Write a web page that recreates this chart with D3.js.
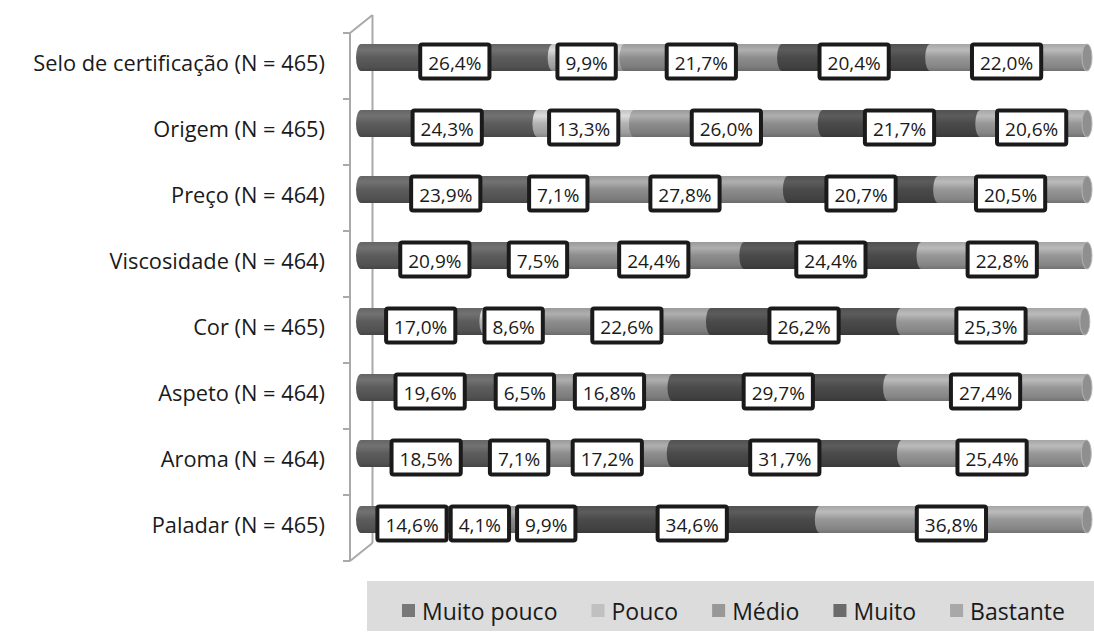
<!DOCTYPE html>
<html>
<head>
<meta charset="utf-8">
<script src="https://cdn.jsdelivr.net/npm/d3@7"></script>
<style>
    body { margin: 0; background: white; }
    text { font-family: "Open Sans", sans-serif; fill: #1a1a1a; }
</style>
</head>
<body>
<div id="chart"></div>
<script>
//DATA
//Categories (top to bottom)
const categories = [
    "Selo de certificação (N = 465)",
    "Origem (N = 465)",
    "Preço (N = 464)",
    "Viscosidade (N = 464)",
    "Cor (N = 465)",
    "Aspeto (N = 464)",
    "Aroma (N = 464)",
    "Paladar (N = 465)"
];

//Series names (stack order)
const seriesNames = ["Muito pouco", "Pouco", "Médio", "Muito", "Bastante"];

//Series values (%)
const muitoPouco = [26.4, 24.3, 23.9, 20.9, 17.0, 19.6, 18.5, 14.6];
const pouco      = [9.9, 13.3, 7.1, 7.5, 8.6, 6.5, 7.1, 4.1];
const medio      = [21.7, 26.0, 27.8, 24.4, 22.6, 16.8, 17.2, 9.9];
const muito      = [20.4, 21.7, 20.7, 24.4, 26.2, 29.7, 31.7, 34.6];
const bastante   = [22.0, 20.6, 20.5, 22.8, 25.3, 27.4, 25.4, 36.8];

//Colours: bars and legend swatches
const barColours    = ["#5c5c5c", "#b2b2b2", "#8d8d8d", "#4a4a4a", "#979797"];
const legendColours = ["#787878", "#c0c0c0", "#989898", "#6b6b6b", "#a8a8a8"];

//SCRIPT PROPERTIES
const w = 1094;
const h = 634;
const barH = 27;
const rx = 5;

//Build table for the stack
const table = categories.map((c, i) => ({
    category: c,
    "Muito pouco": muitoPouco[i],
    "Pouco": pouco[i],
    "Médio": medio[i],
    "Muito": muito[i],
    "Bastante": bastante[i]
}));

//Number format with comma decimal
const ptLocale = d3.formatLocale({decimal: ",", thousands: ".", grouping: [3], currency: ["", "€"]});
const fmt = v => ptLocale.format(".1f")(v) + "%";

const svg = d3.select("#chart")
    .append("svg")
    .attr("width", w)
    .attr("height", h)
    .style("background-color", "white");

//Scales (axis fixed at 100%, longer bars are cut off)
const x = d3.scaleLinear().domain([0, 100]).range([359, 1085]).clamp(true);
const y = d3.scaleBand().domain(categories).range([24.5, 552.5]);

//Cylinder gradients
const defs = svg.append("defs");
barColours.forEach((c, i) => {
    const col = d3.color(c);
    const g = defs.append("linearGradient")
        .attr("id", "grad" + i)
        .attr("x1", 0).attr("y1", 0).attr("x2", 0).attr("y2", 1);
    g.append("stop").attr("offset", "0%").attr("stop-color", col.brighter(0.25));
    g.append("stop").attr("offset", "22%").attr("stop-color", col.brighter(0.6));
    g.append("stop").attr("offset", "50%").attr("stop-color", col);
    g.append("stop").attr("offset", "85%").attr("stop-color", col.darker(0.35));
    g.append("stop").attr("offset", "100%").attr("stop-color", col.darker(0.8));
});

//Walls / axis lines
const wall = svg.append("g").attr("stroke", "#a9a9a9").attr("stroke-width", 2).attr("fill", "none");
const top0 = y.range()[0], bot0 = y.range()[1];
wall.append("line").attr("x1", 372.5).attr("x2", 372.5).attr("y1", top0 - 9.5).attr("y2", bot0 - 9.5);
wall.append("line").attr("x1", 350).attr("x2", 350).attr("y1", top0 + 8.5).attr("y2", bot0 + 8.5);
wall.append("line").attr("x1", 350).attr("x2", 372.5).attr("y1", top0 + 8.5).attr("y2", top0 - 9.5);
wall.append("line").attr("x1", 350).attr("x2", 372.5).attr("y1", bot0 + 8.5).attr("y2", bot0 - 9.5);
//Ticks on the front axis
wall.selectAll(".tick")
    .data(categories.concat([null]))
    .enter()
    .append("line")
    .attr("x1", 343).attr("x2", 350)
    .attr("y1", (d, i) => top0 + 8.5 + i * y.step())
    .attr("y2", (d, i) => top0 + 8.5 + i * y.step());

//Category labels
svg.append("g")
    .selectAll("text")
    .data(categories)
    .enter()
    .append("text")
    .attr("x", 325)
    .attr("y", d => y(d) + y.bandwidth() / 2 + 5)
    .attr("text-anchor", "end")
    .attr("dominant-baseline", "central")
    .style("font-size", "21.8px")
    .text(d => d);

//Stack data
const stacked = d3.stack().keys(seriesNames)(table);

//Draw cylinders row by row
const bars = svg.append("g");
categories.forEach((cat, r) => {
    const cy = y(cat) + y.bandwidth() / 2;
    const t = cy - barH / 2, b = cy + barH / 2;
    let lastEnd = 0, lastIdx = 0;
    stacked.forEach((s, i) => {
        const d = s[r];
        if (d[0] >= 100) return;
        const x0 = x(d[0]) + 2, x1 = x(d[1]) + 2;
        bars.append("path")
            .attr("d", `M${x0},${t} L${x1},${t} L${x1},${b} L${x0},${b} A${rx},${barH / 2} 0 0 1 ${x0},${t} Z`)
            .attr("fill", `url(#grad${i})`);
        lastEnd = x1; lastIdx = i;
    });
    //Right end face
    const face = d3.color(barColours[lastIdx]);
    bars.append("ellipse")
        .attr("cx", lastEnd)
        .attr("cy", cy)
        .attr("rx", rx)
        .attr("ry", barH / 2)
        .attr("fill", face.darker(0.15))
        .attr("stroke", face.brighter(0.5))
        .attr("stroke-width", 1);
});

//Data labels
const labels = svg.append("g");
categories.forEach((cat, r) => {
    const cy = y(cat) + y.bandwidth() / 2 + 4;
    let prevRight = -Infinity;
    stacked.forEach((s, i) => {
        const d = s[r];
        if (d[0] >= 100) return;
        const cx = (x(d[0]) + x(d[1])) / 2;
        const g = labels.append("g");
        const rect = g.append("rect");
        const txt = g.append("text")
            .attr("text-anchor", "middle")
            .attr("dominant-baseline", "central")
            .style("font-size", "19px")
            .text(fmt(s[r].data[s.key]));
        const tw = txt.node().getComputedTextLength();
        const outer = tw + 20;
        let left = cx - outer / 2;
        //Push overlapping labels to the right
        if (left < prevRight - 1) left = prevRight + 4;
        prevRight = left + outer;
        rect.attr("x", left + 2)
            .attr("y", cy - 17)
            .attr("width", outer - 4)
            .attr("height", 34)
            .attr("rx", 2)
            .attr("fill", "white")
            .attr("stroke", "#1a1a1a")
            .attr("stroke-width", 4);
        txt.attr("x", left + outer / 2).attr("y", cy + 1);
    });
});

//Legend
const legend = svg.append("g");
legend.append("rect")
    .attr("x", 367).attr("y", 581)
    .attr("width", w - 367).attr("height", 50)
    .attr("fill", "#dcdcdc");
let lx = 402;
seriesNames.forEach((n, i) => {
    legend.append("rect")
        .attr("x", lx).attr("y", 604)
        .attr("width", 13).attr("height", 13)
        .attr("fill", legendColours[i]);
    const t = legend.append("text")
        .attr("x", lx + 20)
        .attr("y", 611)
        .attr("dominant-baseline", "central")
        .style("font-size", "23px")
        .text(n);
    lx += 20 + t.node().getComputedTextLength() + 34;
});
</script>
</body>
</html>
